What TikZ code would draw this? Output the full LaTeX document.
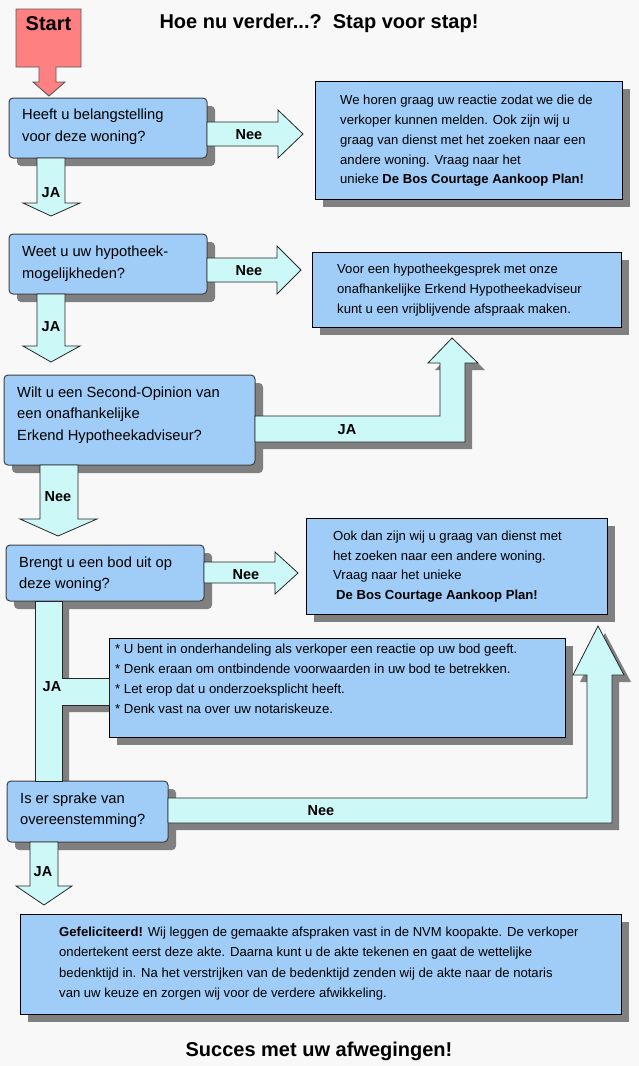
\documentclass[tikz,border=0pt]{standalone}
\usepackage{fontspec}
\setmainfont{Liberation Sans}
\usetikzlibrary{calc}
\definecolor{bgcol}{HTML}{F8F8F8}
\definecolor{boxblue}{HTML}{A0CCF8}
\definecolor{arrowcyan}{HTML}{CCF8F8}
\definecolor{shadowgray}{HTML}{808080}
\definecolor{startred}{HTML}{FF8080}
\begin{document}
\begin{tikzpicture}[x=1pt,y=-1pt,
  shadowed/.style={preaction={fill=shadowgray, transform canvas={shift={(8pt,-8pt)}}}},
  qbox/.style={shadowed, draw=black!75, line width=1pt, fill=boxblue, rounded corners=4pt,
    inner sep=0pt, outer sep=0pt, anchor=north west},
  ibox/.style={shadowed, draw=black, line width=1pt, fill=boxblue,
    inner sep=0pt, outer sep=0pt, anchor=north west},
  qtext/.style={font=\fontsize{14.7}{21.5}\selectfont, align=left, anchor=west, inner sep=0pt},
  itext/.style={font=\fontsize{13.1}{19.7}\selectfont, align=left, anchor=west, inner sep=0pt},
  ftext/.style={font=\fontsize{13.2}{20}\selectfont, align=left, anchor=west, inner sep=0pt},
  htext/.style={font=\fontsize{13.1}{20.3}\selectfont, align=left, anchor=west, inner sep=0pt},
  lbl/.style={font=\bfseries\fontsize{14.5}{16}\selectfont, inner sep=0pt},
  bigtitle/.style={font=\bfseries\fontsize{20}{22}\selectfont, inner sep=0pt},
  fatarrow/.style={fill=arrowcyan, draw=black!85, line width=0.8pt, line join=miter},
  fatshadow/.style={fill=shadowgray}
]
% canvas
\useasboundingbox (0,0) rectangle (639,1066);
\fill[bgcol] (0,0) rectangle (639,1066);

% title
\node[bigtitle] (title) at (319,23) {Hoe nu verder...?\ \ Stap voor stap!};

% start arrow
\filldraw[fill=startred, draw=black!65, line width=0.9pt, line join=miter]
  (16,9) -- (81,9) -- (81,67) -- (56,67) -- (56,82) -- (65,82) -- (49,96)
  -- (33,82) -- (39,82) -- (39,67) -- (16,67) -- cycle;
\node[bigtitle] (start) at (48.5,24) {Start};

% shadows of the long bent arrows
\fill[fatshadow, shift={(7,7)}] (255,416) -- (440,416) -- (440,363) -- (428,363) -- (452,338)
  -- (478,363) -- (465,363) -- (465,442) -- (255,442) -- cycle;
\fill[fatshadow, shift={(7,7)}] (35,601) -- (35,781) -- (62,781) -- (62,705) -- (109,705)
  -- (109,678) -- (62,678) -- (62,601) -- cycle;
\fill[fatshadow, shift={(7,7)}] (168,798) -- (587,798) -- (587,675) -- (573,675) -- (598,626)
  -- (624,675) -- (612,675) -- (612,823) -- (168,823) -- cycle;

% boxes
\node[qbox, minimum width=198pt, minimum height=60pt] (A) at (9,98) {};
\node[ibox, minimum width=307pt, minimum height=118pt] (B1) at (315,81) {};
\node[qbox, minimum width=198pt, minimum height=60pt] (C) at (9,234) {};
\node[ibox, minimum width=309pt, minimum height=75pt] (B2) at (312,252) {};
\node[qbox, minimum width=251pt, minimum height=90pt] (D) at (4,375) {};
\node[qbox, minimum width=198pt, minimum height=56pt] (E) at (6,545) {};
\node[ibox, minimum width=301pt, minimum height=96pt] (B3) at (306,518) {};
\node[ibox, minimum width=456pt, minimum height=99pt] (F) at (109,638) {};
\node[qbox, minimum width=161pt, minimum height=61pt] (G) at (7,781) {};
\node[ibox, minimum width=601pt, minimum height=100pt] (H) at (20,914) {};

% fat arrows
% A -> B1 (Nee), A -> C (JA)
\path[fatarrow] (207,122) -- (278,122) -- (278,110) -- (303,134) -- (278,158) -- (278,146) -- (207,146) -- cycle;
\path[fatarrow] (37,158) -- (65,158) -- (65,203) -- (80,203) -- (51,216) -- (23,203) -- (37,203) -- cycle;
% C -> B2 (Nee), C -> D (JA)
\path[fatarrow] (207,258) -- (277,258) -- (277,246) -- (301,270) -- (277,294) -- (277,282) -- (207,282) -- cycle;
\path[fatarrow] (37,294) -- (65,294) -- (65,346) -- (80,346) -- (51,362) -- (23,346) -- (37,346) -- cycle;
% D -> B2 (JA), D -> E (Nee)
\path[fatarrow] (255,416) -- (440,416) -- (440,363) -- (428,363) -- (452,338)
  -- (478,363) -- (465,363) -- (465,442) -- (255,442) -- cycle;
\path[fatarrow] (40,465) -- (78,465) -- (78,519) -- (97,519) -- (58,536) -- (20,519) -- (40,519) -- cycle;
% E -> B3 (Nee), E -> G with branch to F (JA)
\path[fatarrow] (204,562) -- (275,562) -- (275,552) -- (298,573) -- (275,594) -- (275,583) -- (204,583) -- cycle;
\path[fatarrow] (35,601) -- (35,781) -- (62,781) -- (62,705) -- (109,705)
  -- (109,678) -- (62,678) -- (62,601) -- cycle;
% G -> B3 (Nee), G -> H (JA)
\path[fatarrow] (168,798) -- (587,798) -- (587,675) -- (573,675) -- (598,626)
  -- (624,675) -- (612,675) -- (612,823) -- (168,823) -- cycle;
\path[fatarrow] (30,842) -- (58,842) -- (58,886) -- (72,886) -- (44,905) -- (16,886) -- (30,886) -- cycle;

% arrow labels
\node[lbl] (l1) at (249,135) {Nee};
\node[lbl] (l2) at (51,193) {JA};
\node[lbl] (l3) at (249,271) {Nee};
\node[lbl] (l4) at (51,327) {JA};
\node[lbl] (l5) at (347,430) {JA};
\node[lbl] (l6) at (58,497) {Nee};
\node[lbl] (l7) at (246,575) {Nee};
\node[lbl] (l8) at (52,687) {JA};
\node[lbl] (l9) at (321,811) {Nee};
\node[lbl] (l10) at (43,872) {JA};

% box texts
\node[qtext] (Atxt) at (22,126.5) {Heeft u belangstelling\\voor deze woning?};
\node[itext] (B1txt) at (340,141) {We horen graag uw reactie zodat we die de\\verkoper kunnen melden. Ook zijn wij u\\graag van dienst met het zoeken naar een\\andere woning. Vraag naar het\\unieke \textbf{De Bos Courtage Aankoop Plan!}};
\node[qtext] (Ctxt) at (22,263.5) {Weet u uw hypotheek-\\mogelijkheden?};
\node[itext] (B2txt) at (337,290) {Voor een hypotheekgesprek met onze\\onafhankelijke Erkend Hypotheekadviseur\\kunt u een vrijblijvende afspraak maken.};
\node[qtext] (Dtxt) at (17,414.7) {Wilt u een Second-Opinion van\\een onafhankelijke\\Erkend Hypotheekadviseur?};
\node[qtext] (Etxt) at (19,574) {Brengt u een bod uit op\\deze woning?};
\node[itext] (B3txt) at (333,566.5) {Ook dan zijn wij u graag van dienst met\\het zoeken naar een andere woning.\\Vraag naar het unieke\\\hspace*{3pt}\textbf{De Bos Courtage Aankoop Plan!}};
\node[ftext] (Ftxt) at (115,679) {{*} U bent in onderhandeling als verkoper een reactie op uw bod geeft.\\{*} Denk eraan om ontbindende voorwaarden in uw bod te betrekken.\\{*} Let erop dat u onderzoeksplicht heeft.\\{*} Denk vast na over uw notariskeuze.};
\node[qtext] (Gtxt) at (20,810) {Is er sprake van\\overeenstemming?};
\node[htext] (Htxt) at (59,963.5) {\textbf{Gefeliciteerd!} Wij leggen de gemaakte afspraken vast in de NVM koopakte. De verkoper\\ondertekent eerst deze akte. Daarna kunt u de akte tekenen en gaat de wettelijke\\bedenktijd in. Na het verstrijken van de bedenktijd zenden wij de akte naar de notaris\\van uw keuze en zorgen wij voor de verdere afwikkeling.};

% closing line
\node[bigtitle] (succes) at (319,1051) {Succes met uw afwegingen!};
\end{tikzpicture}
\end{document}
